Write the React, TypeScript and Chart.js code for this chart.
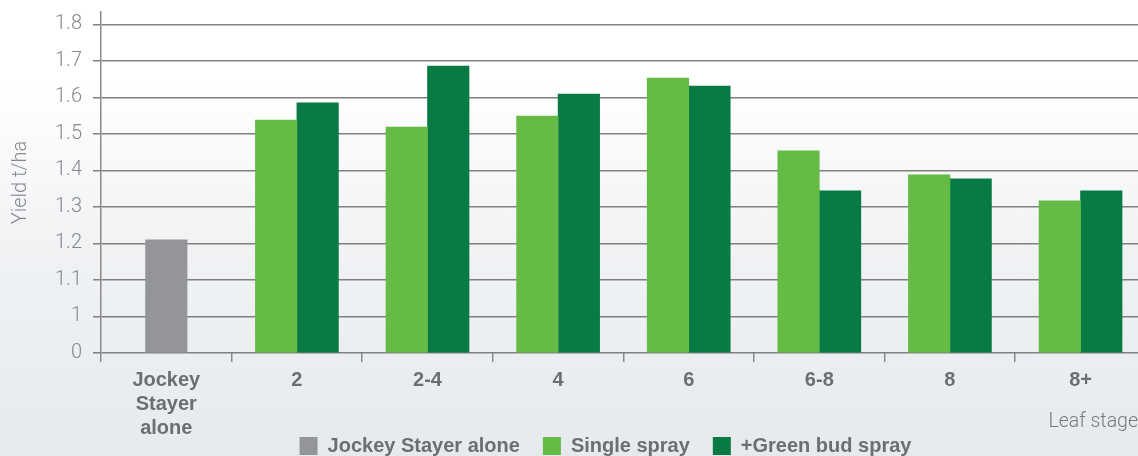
import React, { useEffect, useRef } from 'react';
import { Chart, registerables } from 'chart.js';

Chart.register(...registerables);

// ---- data ----
const categories: (string | string[])[] = [['Jockey', 'Stayer', 'alone'], '2', '2-4', '4', '6', '6-8', '8', '8+'];
const jockeyAlone: (number | null)[] = [1.21, null, null, null, null, null, null, null];
const singleSpray: (number | null)[] = [null, 1.538, 1.519, 1.549, 1.653, 1.454, 1.388, 1.317];
const greenBudSpray: (number | null)[] = [null, 1.585, 1.686, 1.609, 1.631, 1.344, 1.377, 1.344];
const yTickValues = [0, 1, 1.1, 1.2, 1.3, 1.4, 1.5, 1.6, 1.7, 1.8];
const yTickLabels = ['0', '1', '1.1', '1.2', '1.3', '1.4', '1.5', '1.6', '1.7', '1.8'];
const seriesNames = ['Jockey Stayer alone', 'Single spray', '+Green bud spray'];
const seriesColors = ['#939598', '#66bb46', '#087b45'];

// broken axis: 0..1 occupies one step, then 0.1 per step above 1
const toAxis = (v: number) => (v <= 1 ? v : 1 + (v - 1) * 10);

const toPoints = (arr: (number | null)[]) =>
  arr.map((v, i) => ({ x: i, y: v === null ? null : toAxis(v) }));

const LIGHT = "Roboto, 'Liberation Sans', Arial, sans-serif";
const BOLD = "'Liberation Sans', Arial, sans-serif";
const LEGEND_CENTER = 605.5;

const legendShift = {
  id: 'legendShift',
  afterLayout(chart: any) {
    const lg = chart.legend;
    if (!lg) return;
    const dx = LEGEND_CENTER - (lg.left + lg.right) / 2;
    lg.left += dx;
    lg.right += dx;
  },
};

export default function App() {
  const ref = useRef<HTMLCanvasElement | null>(null);

  useEffect(() => {
    if (!ref.current) return;
    const chart = new Chart(ref.current, {
      type: 'bar',
      plugins: [legendShift],
      data: {
        datasets: [
          { label: seriesNames[0], data: toPoints(jockeyAlone) as any, backgroundColor: seriesColors[0] },
          { label: seriesNames[1], data: toPoints(singleSpray) as any, backgroundColor: seriesColors[1] },
          { label: seriesNames[2], data: toPoints(greenBudSpray) as any, backgroundColor: seriesColors[2] },
        ],
      },
      options: {
        animation: false,
        responsive: true,
        maintainAspectRatio: false,
        skipNull: true,
        barThickness: 41.5,
        layout: { padding: { left: 0, right: 0, top: 12, bottom: 0 } },
        plugins: {
          tooltip: { enabled: false },
          legend: {
            position: 'bottom',
            align: 'center',
            labels: {
              boxWidth: 18,
              boxHeight: 18,
              padding: 23,
              color: '#6d6e71',
              font: { family: BOLD, size: 20, weight: 'bold' },
            },
          },
        },
        scales: {
          x: {
            type: 'linear',
            min: -0.5,
            max: 7.44,
            offset: false,
            afterBuildTicks: (scale: any) => {
              scale.ticks = categories.map((_, i) => ({ value: i }));
            },
            afterFit: (scale: any) => {
              scale.height = 60;
            },
            ticks: {
              mirror: true,
              padding: -39,
              color: '#6d6e71',
              font: { family: BOLD, size: 20, weight: 'bold', lineHeight: 1.2 },
              maxRotation: 0,
              autoSkip: false,
              callback: (value: any) => categories[Math.round(Number(value))] as any,
            },
            grid: {
              offset: true,
              drawOnChartArea: false,
              drawTicks: true,
              tickLength: 9,
              color: '#8a8a8a',
              lineWidth: 1.5,
            },
            border: { display: false },
            title: {
              display: true,
              text: 'Leaf stage',
              align: 'end',
              color: '#77787b',
              font: { family: LIGHT, size: 19.5, weight: 300, lineHeight: 1.2 },
              padding: { top: 0, bottom: -21 },
            },
          },
          y: {
            type: 'linear',
            min: 0,
            max: 9.34,
            afterBuildTicks: (scale: any) => {
              scale.ticks = yTickValues.map((v) => ({ value: toAxis(v) }));
            },
            afterFit: (scale: any) => {
              scale.width = 101;
            },
            ticks: {
              padding: 11,
              color: '#86888b',
              font: { family: LIGHT, size: 20, weight: 300, lineHeight: 0.1 },
              callback: (value: any) => {
                const idx = yTickValues.findIndex((v) => Math.abs(toAxis(v) - Number(value)) < 1e-6);
                return idx >= 0 ? yTickLabels[idx] : '';
              },
            },
            grid: {
              color: '#808080',
              lineWidth: 1.5,
              drawTicks: true,
              tickLength: 8,
            },
            border: { display: true, color: '#8a8a8a', width: 1.5 },
            title: {
              display: true,
              text: 'Yield t/ha',
              color: '#86888b',
              font: { family: LIGHT, size: 20, weight: 300, lineHeight: 1.2 },
              padding: { top: 9, bottom: 0 },
            },
          },
        },
      } as any,
    });
    return () => chart.destroy();
  }, []);

  return (
    <div
      style={{
        position: 'fixed',
        left: 0,
        top: 0,
        width: 1138,
        height: 456,
        overflow: 'hidden',
        background: 'linear-gradient(180deg, #ffffff 0%, #ffffff 18%, #f0f2f4 55%, #e7eaed 100%)',
      }}
    >
      <div style={{ position: 'relative', width: 1138, height: 466 }}>
        <canvas ref={ref} />
      </div>
    </div>
  );
}
